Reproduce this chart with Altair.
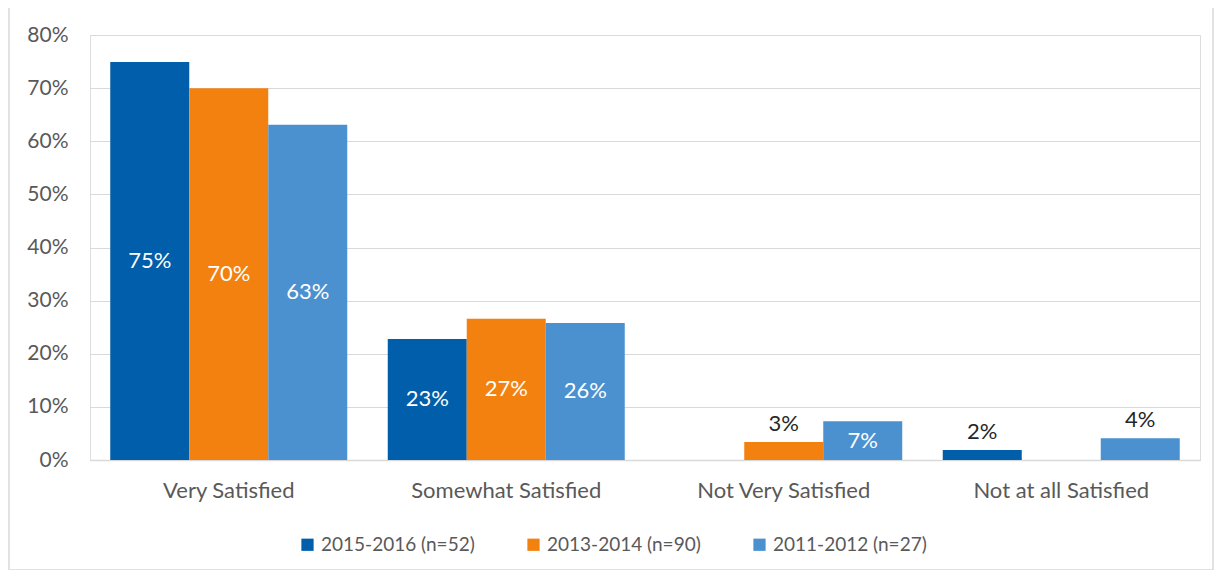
import altair as alt
import pandas as pd

categories = ["Very Satisfied", "Somewhat Satisfied", "Not Very Satisfied", "Not at all Satisfied"]
series = ["2015-2016 (n=52)", "2013-2014 (n=90)", "2011-2012 (n=27)"]
colors = ["#005EAA", "#F28110", "#4B91CF"]
v_2015 = [74.9, 22.8, 0.0, 1.9]
v_2013 = [70.0, 26.6, 3.4, 0.0]
v_2011 = [63.1, 25.8, 7.3, 4.1]

rows = []
for s, vals in zip(series, [v_2015, v_2013, v_2011]):
    for c, v in zip(categories, vals):
        rows.append({"category": c, "series": s, "value": v / 100})
df = pd.DataFrame(rows)

FONT = "Lato"
FS = 22
W, H = 1110, 425

x = alt.X("category:N", sort=categories, title=None,
          scale=alt.Scale(paddingInner=0.146, paddingOuter=0.073),
          axis=alt.Axis(labelAngle=0, ticks=False, domainColor="#D9D9D9", domainWidth=1.5,
                        labelColor="#595959", labelFontSize=FS, labelFont=FONT, labelPadding=20,
                        labelLimit=0))
xo = alt.XOffset("series:N", sort=series)

base = alt.Chart(df).encode(x=x, xOffset=xo)

bars = base.mark_bar().encode(
    y=alt.Y("value:Q", title=None,
            scale=alt.Scale(domain=[0, 0.8]),
            axis=alt.Axis(format=".0%", values=[i / 10 for i in range(9)], domain=False, ticks=False,
                          gridColor="#D9D9D9", gridWidth=1.2, labelColor="#595959",
                          labelFontSize=21, labelFont=FONT, labelPadding=22)),
    color=alt.Color("series:N", sort=series, scale=alt.Scale(domain=series, range=colors),
                    legend=alt.Legend(title=None, orient="none", legendX=208, legendY=500,
                                      direction="horizontal", symbolType="square", symbolSize=150,
                                      symbolStrokeWidth=0, labelFontSize=19, labelFont=FONT,
                                      labelColor="#595959", columnPadding=49, labelOffset=4,
                                      labelLimit=0)),
).transform_filter("datum.value > 0")

inside = base.mark_text(color="white", fontSize=FS, font=FONT, baseline="middle").encode(
    y="mid:Q", text="lbl:N"
).transform_filter("datum.value >= 0.05").transform_calculate(
    mid="datum.value/2", lbl="format(datum.value, '.0%')")

outside = base.mark_text(color="#262626", fontSize=FS, font=FONT, baseline="bottom", dy=-6).encode(
    y="value:Q", text="lbl:N"
).transform_filter("datum.value > 0 && datum.value < 0.05").transform_calculate(
    lbl="format(datum.value, '.0%')")

frame = alt.Chart(pd.DataFrame({"a": [0]})).mark_rect(
    fill=None, stroke="#D9D9D9", strokeWidth=1.5, clip=False
).encode(x=alt.value(-81), x2=alt.value(1123), y=alt.value(-31), y2=alt.value(535))

chart = alt.layer(frame, bars, inside, outside).properties(
    width=W, height=H,
    autosize=alt.AutoSizeParams(type="none"),
    padding={"left": 82, "top": 27, "right": 15, "bottom": 110},
).configure_view(stroke=None).configure(background="white")

chart.save("out.html", embed_options={"renderer": "svg", "actions": False})
